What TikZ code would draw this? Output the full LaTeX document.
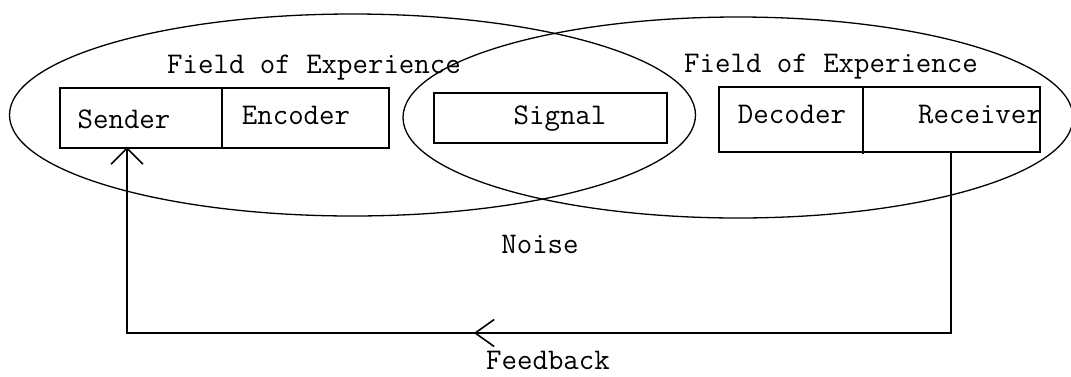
\documentclass[tikz,border=0pt]{standalone}
\usepackage{fontspec}
\usetikzlibrary{arrows.meta,decorations.markings}
\tikzset{myBarb/.tip={Straight Barb[length=16pt,width=32pt,line width=1.6pt]},
  midBarb/.tip={Straight Barb[length=19pt,width=27pt,line width=1.6pt]}}
\begin{document}
\begin{tikzpicture}[x=1pt,y=-1pt,
  field/.style={draw,line width=1.3pt},
  box/.style={draw,line width=1.6pt,inner sep=0pt,anchor=north west},
  txt/.style={anchor=base,inner sep=0pt,font=\ttfamily\fontsize{30}{34}\selectfont},
  fb/.style={draw,line width=1.6pt}
]
\useasboundingbox (0,0) rectangle (1071,376);
% fields of experience
\draw[field] (352.5,115) ellipse [x radius=343, y radius=101];
\draw[field] (738,117.5) ellipse [x radius=335, y radius=100.5];
% boxes
\node[box,minimum width=162pt,minimum height=60pt] (sender) at (59,87) {};
\node[box,minimum width=167pt,minimum height=60pt] (encoder) at (221,87) {};
\node[box,minimum width=233pt,minimum height=50pt] (signal) at (433,92) {};
\node[box,minimum width=321pt,minimum height=65pt] (dr) at (718,86) {};
\node[inner sep=0pt,minimum width=176pt,minimum height=65pt,anchor=north west] (receiver) at (863,86) {};
\node[inner sep=0pt,minimum width=145pt,minimum height=65pt,anchor=north west] (decoder) at (718,86) {};
\draw[line width=1.6pt] (receiver.north west) -- ([yshift=-3pt]receiver.south west);
% texts
\node[txt] (foe1) at (314,73) {Field of Experience};
\node[txt] (foe2) at (831,72) {Field of Experience};
\node[txt] (tsender) at (124,128) {Sender};
\node[txt] (tencoder) at (296,124) {Encoder};
\node[txt] (tsignal) at (560,124) {Signal};
\node[txt] (tdecoder) at (792,123) {Decoder};
\node[txt] (treceiver) at (980,123) {Receiver};
\node[txt] (noise) at (540,253) {Noise};
\node[txt] (feedback) at (548,369) {Feedback};
% feedback loop
\coordinate (sendin) at (127,147);
\coordinate (corner) at (127,333);
\draw[fb,postaction={decorate,decoration={markings,
    mark=at position 659pt with {\arrow{midBarb}}}},-{myBarb}]
  (receiver.south) |- (corner) -- (sendin);
\end{tikzpicture}
\end{document}
